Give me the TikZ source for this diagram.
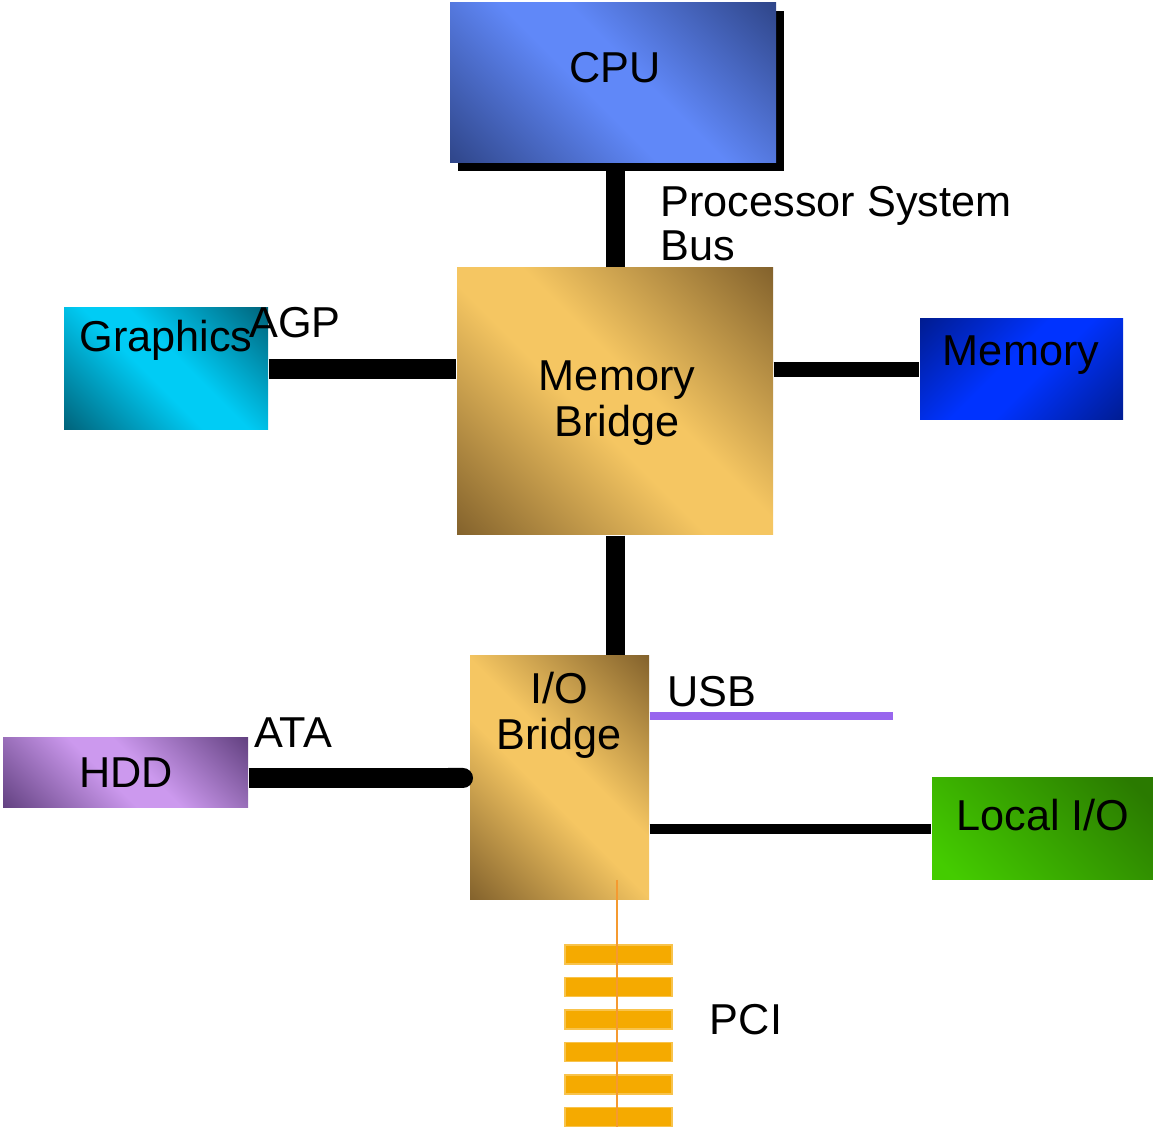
\documentclass[tikz,border=0pt]{standalone}
\usepackage{fontspec}
\setmainfont{Liberation Sans}
\usetikzlibrary{shadows,arrows.meta}

\definecolor{cpuDk}{HTML}{2B4080}
\definecolor{cpuLt}{HTML}{6088F8}
\definecolor{oroDk}{HTML}{7A5A28}
\definecolor{oroLt}{HTML}{F5C662}
\definecolor{gfxDk}{HTML}{005A70}
\definecolor{gfxLt}{HTML}{00CCF5}
\definecolor{memDk}{HTML}{001A88}
\definecolor{memLt}{HTML}{0033FF}
\definecolor{hddDk}{HTML}{5A3A78}
\definecolor{hddLt}{HTML}{CC99EE}
\definecolor{lioDk}{HTML}{2A7A00}
\definecolor{lioLt}{HTML}{44CC00}
\definecolor{usbcol}{HTML}{9966EE}
\definecolor{slotcol}{HTML}{F5AA00}
\definecolor{pcicol}{HTML}{F59A30}

\colorlet{dkc}{black}
\colorlet{ltc}{white}
\pgfdeclareverticalshading[dkc,ltc]{brillo}{100bp}{color(0bp)=(dkc); color(12bp)=(dkc); color(45bp)=(ltc); color(55bp)=(ltc); color(88bp)=(dkc); color(100bp)=(dkc)}
\pgfdeclareverticalshading[dkc,ltc]{rampa}{100bp}{color(0bp)=(ltc); color(20bp)=(ltc); color(80bp)=(dkc); color(100bp)=(dkc)}

\tikzset{
	tono/.style 2 args={/utils/exec={\colorlet{dkc}{#1}\colorlet{ltc}{#2}},shading=brillo,shading angle=-45},
	tonoinv/.style 2 args={/utils/exec={\colorlet{dkc}{#1}\colorlet{ltc}{#2}},shading=brillo,shading angle=45},
	rampa/.style 2 args={/utils/exec={\colorlet{dkc}{#1}\colorlet{ltc}{#2}},shading=rampa,shading angle=-45}
}

\tikzstyle{caja}= [rectangle,inner sep=0pt,draw=none]
\tikzstyle{texto}= [inner sep=0pt,font=\fontsize{12.3pt}{13pt}\selectfont,align=center]
\tikzstyle{bus}= [black,line width=0.19cm]
\tikzstyle{ranura}= [rectangle,inner sep=0pt,minimum width=1.07cm,minimum height=0.19cm,fill=slotcol,draw=slotcol!70!white,line width=0.4pt]

\begin{document}
\begin{tikzpicture}
		\useasboundingbox (0,0) rectangle (11.53,11.27);

		\node (cpu) at (6.13,10.44) [caja,minimum width=3.26cm,minimum height=1.60cm,tono={cpuDk}{cpuLt},drop shadow={shadow xshift=0.08cm,shadow yshift=-0.08cm,fill=black,opacity=1}] {};
		\node (tcpu) at (6.15,10.59) [texto] {CPU};

		\node (mb) at (6.15,7.255) [caja,minimum width=3.16cm,minimum height=2.67cm,tono={oroDk}{oroLt}] {};
		\node (tmb) at (6.17,7.24) [texto] {Memory\\Bridge};

		\node (gfx) at (1.66,7.58) [caja,minimum width=2.04cm,minimum height=1.22cm,tono={gfxDk}{gfxLt}] {};
		\node (tgfx) at (1.66,7.87) [texto] {Graphics};

		\node (mem) at (10.215,7.575) [caja,minimum width=2.03cm,minimum height=1.01cm,tonoinv={memDk}{memLt}] {};
		\node (tmem) at (10.21,7.72) [texto] {Memory};

		\node (io) at (5.595,3.49) [caja,minimum width=1.79cm,minimum height=2.44cm,tono={oroDk}{oroLt}] {};
		\node (tio) at (5.59,4.12) [texto] {I/O\\Bridge};

		\node (hdd) at (1.255,3.54) [caja,minimum width=2.45cm,minimum height=0.70cm,tono={hddDk}{hddLt}] {};
		\node (thdd) at (1.26,3.54) [texto] {HDD};

		\node (lio) at (10.425,2.98) [caja,minimum width=2.21cm,minimum height=1.02cm,rampa={lioDk}{lioLt}] {};
		\node (tlio) at (10.43,3.12) [texto] {Local I/O};

		% buses
		\draw[bus] (mb.north) -- (mb.north |- cpu.south);
		\draw[bus] (mb.south) -- (mb.south |- io.north);
		\draw[bus,line width=0.2cm] (gfx.east) -- (mb.west |- gfx.east);
		\draw[bus,line width=0.15cm] (mb.east |- mem.west) -- (mem.west);
		\draw[bus,line width=0.2cm,-{Round Cap[]}] (hdd.east |- 0,3.49) -- (4.73,3.49);
		\draw[bus,line width=0.1cm] (io.east |- lio.west) -- (lio.west);

		\coordinate (usbfin) at (8.93,4.11);
		\draw[usbcol,line width=0.08cm] (io.east |- usbfin) -- (usbfin);

		% PCI
		\foreach \i in {0,...,5}
			\node (slot\i) at (6.185,1.725-0.325*\i) [ranura] {};
		\coordinate (pcitop) at (6.17,2.47);
		\coordinate (pcifin) at (6.17,0);
		\draw[pcicol,line width=0.6pt] (pcitop) -- (pcifin);

		\node (tproc) at (6.60,9.03) [texto,anchor=west,align=left,font=\fontsize{12.3pt}{12.5pt}\selectfont] {Processor System\\Bus};
		\node (tagp) at (2.95,8.04) [texto] {AGP};
		\node (tusb) at (7.12,4.35) [texto] {USB};
		\node (tata) at (2.93,3.94) [texto] {ATA};
		\node (tpci) at (7.46,1.07) [texto] {PCI};

\end{tikzpicture}
\end{document}
